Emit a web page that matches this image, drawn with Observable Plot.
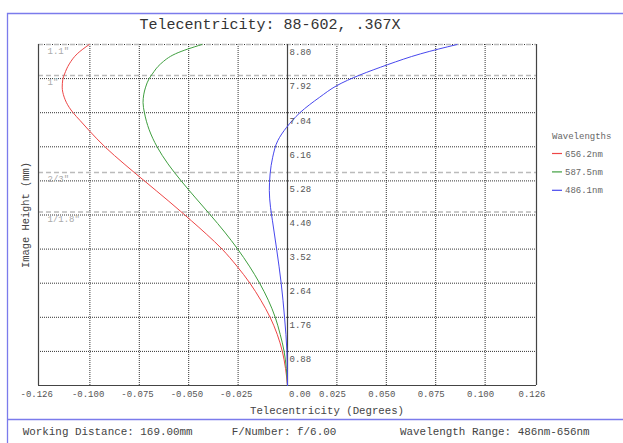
<!DOCTYPE html>
<html><head><meta charset="utf-8">
<script src="https://cdn.jsdelivr.net/npm/d3@7"></script>
<script src="https://cdn.jsdelivr.net/npm/@observablehq/plot@0.6"></script>
<style>
body{margin:0;background:#fff;}
#chart{position:relative;width:623px;height:443px;overflow:hidden;}
</style></head><body><div id="chart"></div>
<script>
const wavelengths = ["656.2nm", "587.5nm", "486.1nm"];
const colors = ["#ee4646", "#3f9f3f", "#4848ee"];

const redHeight = [0, 0.44, 0.88, 1.32, 1.76, 2.20, 2.64, 3.08, 3.52, 3.91, 4.25, 4.49, 4.77, 5.28, 5.72, 6.15, 6.58, 6.84, 7.04, 7.18, 7.44, 7.70, 7.90, 8.04, 8.30, 8.56, 8.80];
const redAngle  = [0, -0.0010, -0.0026, -0.0052, -0.0088, -0.0135, -0.0190, -0.0256, -0.0331, -0.0411, -0.0486, -0.0540, -0.0604, -0.0724, -0.0827, -0.0922, -0.1004, -0.1050, -0.1085, -0.1105, -0.1130, -0.1140, -0.1137, -0.1128, -0.1104, -0.1064, -0.1003];

const greenHeight = [0, 0.44, 0.88, 1.32, 1.76, 2.20, 2.64, 3.08, 3.52, 3.96, 4.40, 4.84, 5.28, 5.72, 6.16, 6.60, 7.04, 7.30, 7.70, 7.92, 8.04, 8.30, 8.56, 8.80];
const greenAngle  = [0, -0.0006, -0.0017, -0.0037, -0.0062, -0.0097, -0.0141, -0.0193, -0.0252, -0.0318, -0.0390, -0.0465, -0.0538, -0.0605, -0.0660, -0.0700, -0.0724, -0.0731, -0.0718, -0.0700, -0.0684, -0.0642, -0.0567, -0.0433];

const blueHeight = [0, 0.88, 1.76, 2.64, 3.52, 4.25, 4.60, 5.03, 5.46, 5.89, 6.32, 6.66, 7.04, 7.44, 7.74, 8.28, 8.56, 8.80];
const blueAngle  = [0, -0.0003, -0.0015, -0.0032, -0.0055, -0.0076, -0.0086, -0.0092, -0.0088, -0.0075, -0.0049, -0.0005, 0.0063, 0.0163, 0.0250, 0.0507, 0.0674, 0.0858];

const xTicks = [-0.126, -0.100, -0.075, -0.050, -0.025, 0, 0.025, 0.050, 0.075, 0.100, 0.126];
const yTicks = [0, 0.88, 1.76, 2.64, 3.52, 4.40, 5.28, 6.16, 7.04, 7.92, 8.80];
const sensorNames = ['1.1"', '1"', '2/3"', '1/1.8"'];
const sensorHeights = [8.8, 8.0, 5.5, 4.48];

const title = "Telecentricity: 88-602, .367X";
const xLabel = "Telecentricity (Degrees)";
const yLabel = "Image Height (mm)";
const legendTitle = "Wavelengths";
const footer = ["Working Distance: 169.00mm", "F/Number: f/6.00", "Wavelength Range: 486nm-656nm"];

const series = [
  {h: redHeight, a: redAngle},
  {h: greenHeight, a: greenAngle},
  {h: blueHeight, a: blueAngle}
];
const rows = series.flatMap((s, k) => s.h.map((h, i) => ({wl: wavelengths[k], h, a: s.a[i]})));

const font = '"Courier New","Liberation Mono",monospace';

const plot = Plot.plot({
  width: 623, height: 443,
  marginLeft: 38, marginRight: 87, marginTop: 44, marginBottom: 58,
  x: {domain: [-0.126, 0.126], axis: null},
  y: {domain: [0, 8.8], axis: null},
  color: {domain: wavelengths, range: colors},
  style: {fontFamily: font, background: "transparent", overflow: "visible"},
  marks: [
    Plot.gridX(xTicks.filter(d => Math.abs(d) < 0.12 && d !== 0), {stroke: "#000", strokeOpacity: 0.8, strokeDasharray: "1,1"}),
    Plot.gridY(yTicks.filter(d => d > 0), {stroke: "#000", strokeOpacity: 0.8, strokeDasharray: "1,1"}),
    Plot.ruleY(sensorHeights, {stroke: "#bbb", strokeWidth: 1.5, strokeDasharray: "5,3"}),
    Plot.text(sensorHeights, {x: -0.126, y: d => d, text: sensorNames, dx: 9, dy: 7, textAnchor: "start", fontSize: 9, fill: "#aaa"}),
    Plot.ruleX([-0.126, 0, 0.126], {stroke: "#444", strokeWidth: 1.2}),
    Plot.ruleY([0], {stroke: "#444", strokeWidth: 1.2}),
    Plot.line(rows, {x: "a", y: "h", z: "wl", stroke: "wl", strokeWidth: 1, curve: "monotone-y"}),
    Plot.text(yTicks.filter(d => d > 0), {x: 0, y: d => d, text: d => d.toFixed(2), dx: 2, dy: 8, textAnchor: "start", fontSize: 9, fill: "#555"}),
    Plot.text(xTicks.filter(d => d !== 0), {x: d => d, y: 0, text: d => d.toFixed(3), dx: -18, dy: 9, textAnchor: "start", fontSize: 9, fill: "#555"}),
    Plot.text([0], {x: d => d, y: 0, text: d => d.toFixed(2), dx: 1.5, dy: 9, textAnchor: "start", fontSize: 9, fill: "#555"})
  ]
});

document.getElementById("chart").appendChild(plot);
const svg = d3.select(plot);
const border = "#7b7bec";
svg.append("path").attr("d", "M7.5,460V13.5H640").attr("fill", "none").attr("stroke", border).attr("stroke-width", 1.3);
svg.append("path").attr("d", "M7.5,419.5H640").attr("fill", "none").attr("stroke", border).attr("stroke-width", 1.3);
const txt = (x, y, s, size, fill, anchor) => svg.append("text").attr("x", x).attr("y", y).attr("font-size", size).attr("fill", fill).attr("text-anchor", anchor || "start").attr("font-family", font).text(s);
txt(270, 29, title, 15, "#333", "middle");
txt(327, 414, xLabel, 10.7, "#444", "middle");
svg.append("text").attr("transform", "translate(28.5,215) rotate(-90)").attr("text-anchor", "middle").attr("font-size", 10.4).attr("fill", "#444").attr("font-family", font).text(yLabel);
txt(552, 139, legendTitle, 9, "#666");
wavelengths.forEach((w, i) => {
  const y = 153.5 + i * 18.4;
  svg.append("line").attr("x1", 552).attr("x2", 562).attr("y1", y).attr("y2", y).attr("stroke", colors[i]).attr("stroke-width", 1.2);
  txt(565, y + 3, w, 9, "#666");
});
txt(22.7, 435, footer[0], 10.9, "#444");
txt(231.7, 435, footer[1], 10.9, "#444");
txt(400, 435, footer[2], 10.9, "#444");
</script></body></html>
